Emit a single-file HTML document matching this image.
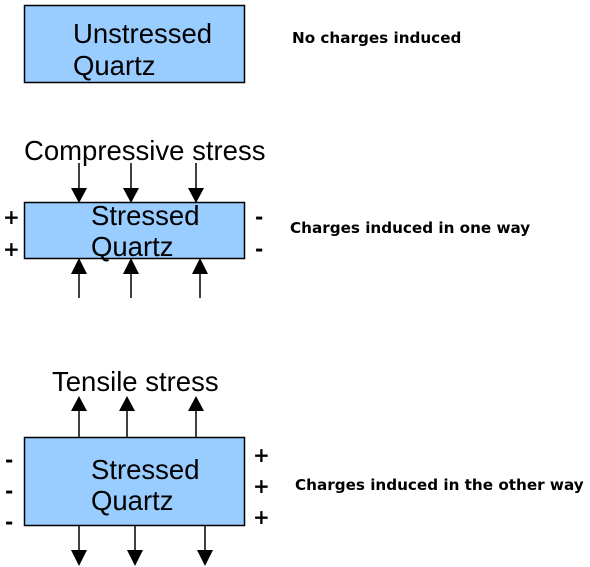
<!DOCTYPE html>
<html><head><style>
body{margin:0;background:#fff;width:590px;height:567px;overflow:hidden}
svg{display:block}
.t{font-family:"Liberation Sans",Arial,sans-serif;font-size:27.5px;fill:#000}
.b{font-family:"DejaVu Sans",Verdana,sans-serif;font-weight:bold;font-size:15.2px;fill:#000}
.s{font-family:"DejaVu Sans",sans-serif;font-size:20px;font-weight:bold;fill:#000}
</style></head><body>
<svg width="590" height="567" xmlns="http://www.w3.org/2000/svg">
<rect x="24.5" y="5.5" width="220" height="77" fill="#99ccff" stroke="#000" stroke-width="1.5"/>
<text class="t" x="73" y="43">Unstressed</text>
<text class="t" x="73" y="75">Quartz</text>
<text class="b" x="292" y="43">No charges induced</text>

<text class="t" x="24" y="160">Compressive stress</text>
<g stroke="#000" stroke-width="1.5">
<line x1="79" y1="163" x2="79" y2="190"/><line x1="131" y1="163" x2="131" y2="190"/><line x1="196" y1="163" x2="196" y2="190"/>
<line x1="79" y1="270" x2="79" y2="298"/><line x1="131" y1="270" x2="131" y2="298"/><line x1="200" y1="270" x2="200" y2="298"/>
<line x1="79" y1="408" x2="79" y2="437"/><line x1="127" y1="408" x2="127" y2="437"/><line x1="196" y1="408" x2="196" y2="437"/>
<line x1="79" y1="525" x2="79" y2="552"/><line x1="135" y1="525" x2="135" y2="552"/><line x1="205" y1="525" x2="205" y2="552"/>
</g>
<g fill="#000">
<polygon points="71,188 87,188 79,203"/><polygon points="123,188 139,188 131,203"/><polygon points="188,188 204,188 196,203"/>
<polygon points="71,274 87,274 79,258"/><polygon points="123,274 139,274 131,258"/><polygon points="192,274 208,274 200,258"/>
<polygon points="71,411 87,411 79,396"/><polygon points="119,411 135,411 127,396"/><polygon points="188,411 204,411 196,396"/>
<polygon points="71,550 87,550 79,566"/><polygon points="127,550 143,550 135,566"/><polygon points="197,550 213,550 205,566"/>
</g>
<rect x="24.5" y="202.5" width="220" height="56" fill="#99ccff" stroke="#000" stroke-width="1.5"/>
<text class="t" x="91" y="225">Stressed</text>
<text class="t" x="91" y="256">Quartz</text>
<text class="s" x="3" y="224">+</text><text class="s" x="3" y="256">+</text>
<text class="s" x="255" y="224">-</text><text class="s" x="255" y="256">-</text>
<text class="b" x="290" y="233">Charges induced in one way</text>

<text class="t" x="52" y="391">Tensile stress</text>
<rect x="24.5" y="437.5" width="220" height="88" fill="#99ccff" stroke="#000" stroke-width="1.5"/>
<text class="t" x="91" y="479">Stressed</text>
<text class="t" x="91" y="510">Quartz</text>
<text class="s" x="5" y="467">-</text><text class="s" x="5" y="498">-</text><text class="s" x="5" y="529">-</text>
<text class="s" x="253" y="462">+</text><text class="s" x="253" y="493">+</text><text class="s" x="253" y="524">+</text>
<text class="b" x="295" y="490">Charges induced in the other way</text>
</svg>
</body></html>
